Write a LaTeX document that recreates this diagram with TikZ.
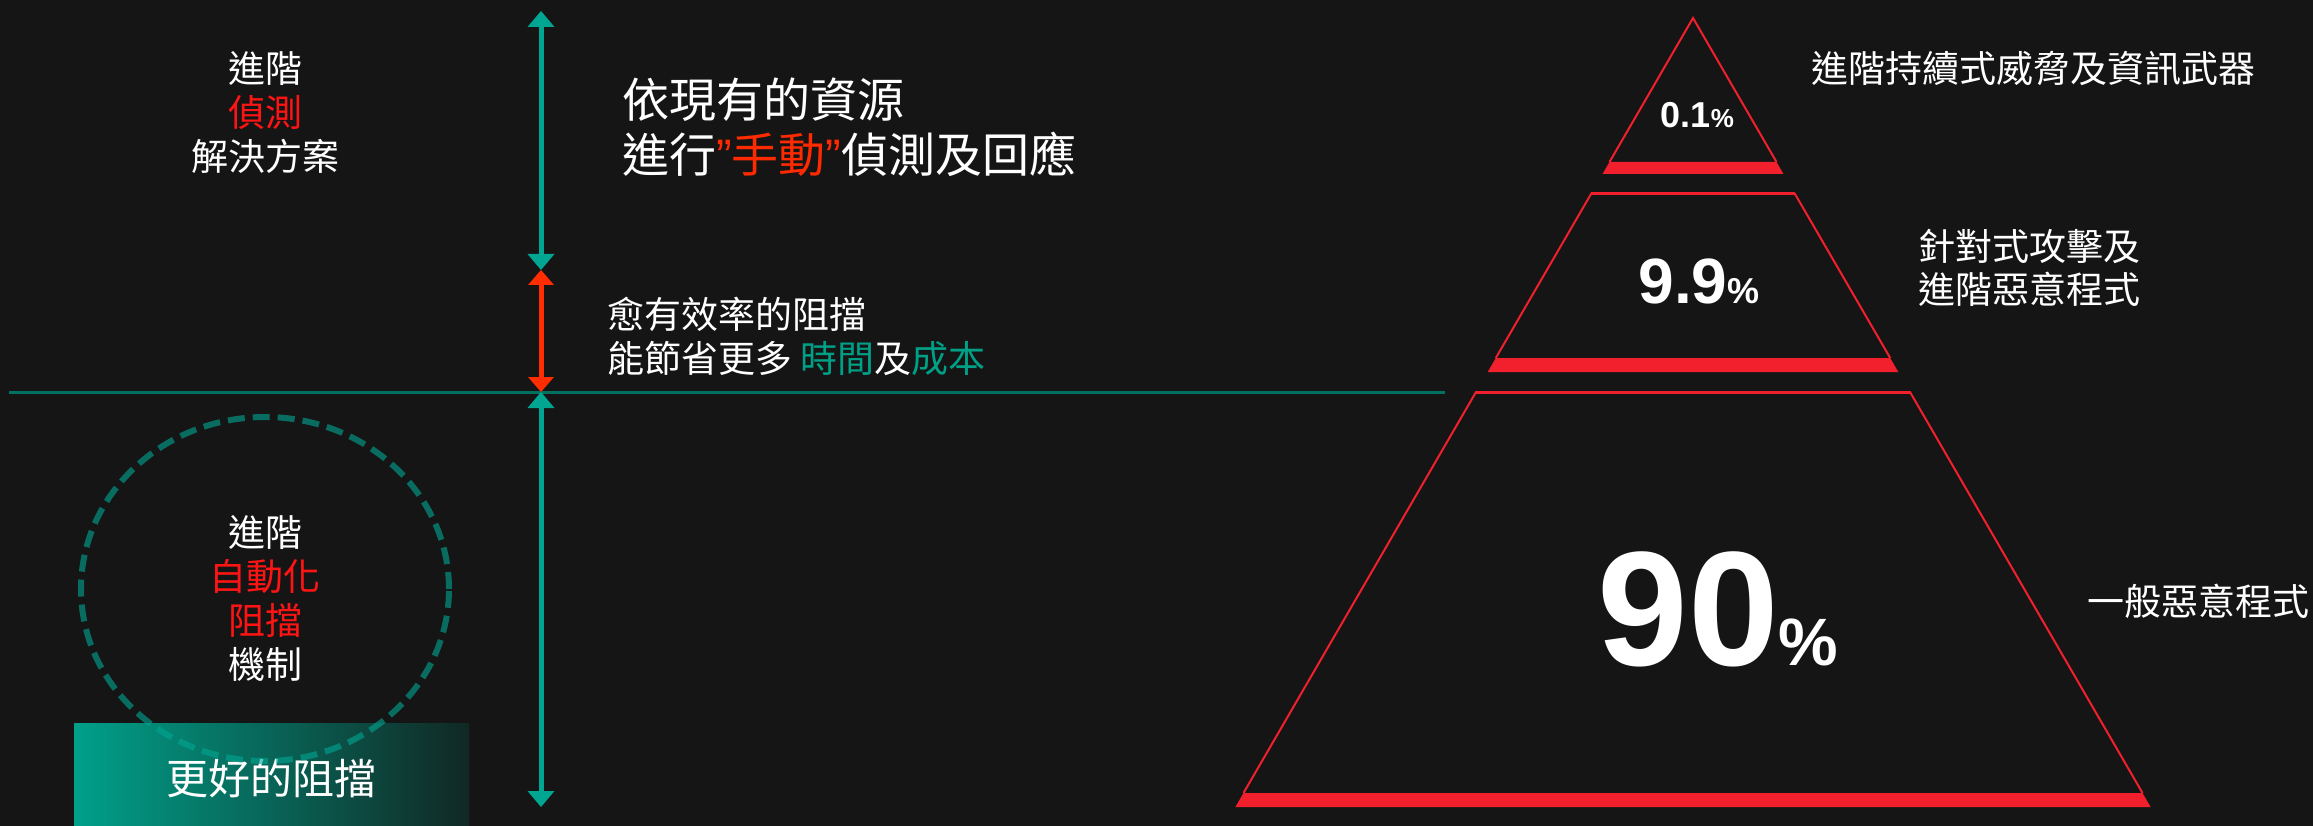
\documentclass[tikz,border=0pt]{standalone}
\usepackage{fontspec}
\setmainfont{Liberation Sans}
\newfontfamily\cjk{Noto Sans CJK TC}
\usetikzlibrary{arrows.meta,shapes.geometric}
\definecolor{bg}{RGB}{21,21,21}
\definecolor{tealA}{RGB}{0,166,146}
\definecolor{tealLine}{RGB}{0,112,96}
\definecolor{tealTxt}{RGB}{0,160,135}
\definecolor{redArr}{RGB}{255,45,0}
\definecolor{redTxt}{RGB}{255,20,20}
\definecolor{redManual}{RGB}{255,42,0}
\definecolor{pyr}{RGB}{242,32,44}
\definecolor{boxL}{RGB}{0,160,138}
\definecolor{boxR}{RGB}{17,40,36}
\tikzset{
  cjk37/.style={inner sep=0pt, text=white, font=\cjk\fontsize{37}{44}\selectfont},
  cjk47/.style={inner sep=0pt, text=white, font=\cjk\fontsize{47}{55}\selectfont},
  numtxt/.style={inner sep=0pt, text=white, font=\bfseries},
  tealarrow/.style={draw=tealA, line width=5pt,
    arrows={Triangle[length=16pt,width=27pt,line width=0pt]-Triangle[length=16pt,width=27pt,line width=0pt]}},
  redarrow/.style={draw=redArr, line width=5pt,
    arrows={Triangle[length=15pt,width=26pt,line width=0pt]-Triangle[length=15pt,width=26pt,line width=0pt]}},
  divider/.style={draw=tealLine, line width=3pt},
  pyrline/.style={draw=pyr, line width=2pt},
  pyrtop/.style={draw=pyr, line width=3pt},
  pyrbar/.style={fill=pyr},
  ring/.style={draw=tealA, draw opacity=0.6, line width=6pt, dash pattern=on 17pt off 8pt, ellipse, inner sep=0pt},
}
\begin{document}
\begin{tikzpicture}[x=1pt,y=-1pt]
\fill[bg] (0,0) rectangle (2313,826);
\useasboundingbox (0,0) rectangle (2313,826);

% divider
\coordinate (dl) at (9,392);
\coordinate (dr) at (1445,392);
\draw[divider] (dl) -- (dr);

% arrows
\coordinate (a1) at (541,11);
\coordinate (a2) at (541,270);
\coordinate (a3) at (541,392);
\coordinate (a4) at (541,807);
\draw[tealarrow] (a1) -- (a2);
\draw[redarrow] (a2) -- (a3);
\draw[tealarrow] (a3) -- (a4);

% left top text
\node[cjk37, align=center] (detect) at (265,112.5) {進階\\{\color{redTxt}偵測}\\解決方案};

% manual text
\node[cjk47, align=left, anchor=west] (manual) at (622,127.5)
  {依現有的資源\\進行{\color{redManual}{\fontspec{Liberation Sans}”}手動{\fontspec{Liberation Sans}”}}偵測及回應};

% efficiency text
\node[cjk37, align=left, anchor=west] (eff) at (607,336)
  {愈有效率的阻擋\\能節省更多 {\color{tealTxt}時間}及{\color{tealTxt}成本}};

% better blocking box
\node[inner sep=0pt, minimum width=395pt, minimum height=110pt, left color=boxL, right color=boxR, anchor=north west] (better) at (74,723) {};
\node[cjk37, font=\cjk\fontsize{42}{42}\selectfont] (bettertxt) at (271,778) {更好的阻擋};

% ring
\node[ring, minimum width=368pt, minimum height=344pt] (ringnode) at (265,589) {};
\node[cjk37, align=center] (auto) at (265,598.5)
  {進階\\{\color{redTxt}自動化}\\{\color{redTxt}阻擋}\\機制};

% pyramid top
\fill[pyrbar] (1609.5,162) -- (1776.5,162) -- (1783.5,174) -- (1602.5,174) -- cycle;
\draw[pyrline] (1609.5,162) -- (1693,18) -- (1776.5,162);
% pyramid middle
\fill[pyrbar] (1495.8,358) -- (1890.2,358) -- (1898.3,372) -- (1487.7,372) -- cycle;
\draw[pyrline] (1495.8,358) -- (1591,194) -- (1795,194) -- (1890.2,358);
\draw[pyrtop] (1591,194) -- (1795,194);
% pyramid bottom
\fill[pyrbar] (1243.5,793) -- (2142.5,793) -- (2150.6,807) -- (1235.4,807) -- cycle;
\draw[pyrline] (1243.5,793) -- (1476,392) -- (1910,392) -- (2142.5,793);
\draw[pyrtop] (1476,392) -- (1910,392);

% percentages
\node[numtxt, anchor=base] (p1) at (1697.5,128) {\fontsize{36}{36}\selectfont 0.1\fontsize{26}{26}\selectfont\%};
\node[numtxt, anchor=base] (p2) at (1699,304) {\fontsize{64}{64}\selectfont 9.9\fontsize{36}{36}\selectfont\%};
\node[numtxt, anchor=base] (p3) at (1718,665) {\fontsize{163}{163}\selectfont 90\fontsize{67}{67}\selectfont\%};

% right labels
\node[cjk37, anchor=west] (l1) at (1811,69) {進階持續式威脅及資訊武器};
\node[cjk37, anchor=west, align=left, font=\cjk\fontsize{37}{43}\selectfont] (l2) at (1918,268) {針對式攻擊及\\進階惡意程式};
\node[cjk37, anchor=west] (l3) at (2087,601) {一般惡意程式};
\end{tikzpicture}
\end{document}
